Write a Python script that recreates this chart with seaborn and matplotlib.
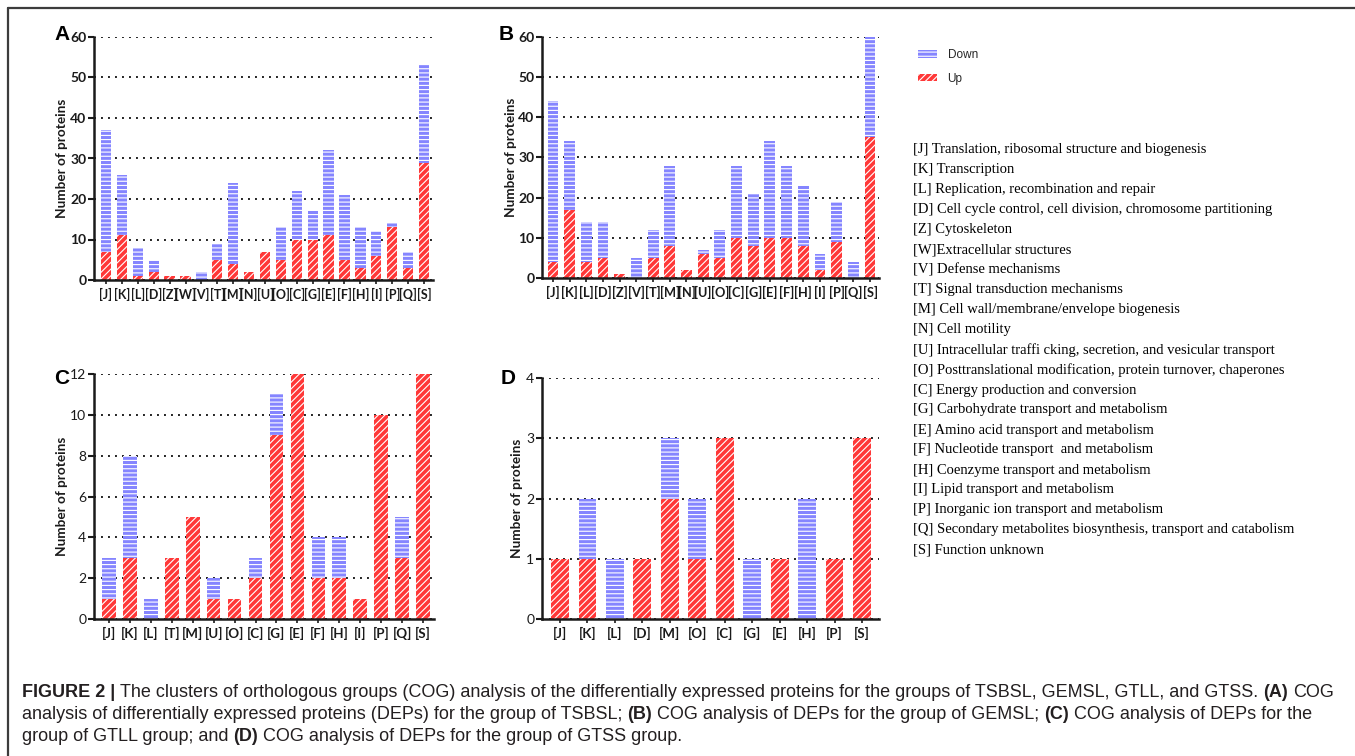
import numpy as np
import pandas as pd
import matplotlib
matplotlib.use("Agg")
import matplotlib.pyplot as plt
import seaborn as sns
from matplotlib.patches import Patch
from matplotlib.lines import Line2D

# ---------------- data ----------------
cats_A = ["[J]", "[K]", "[L]", "[D]", "[Z]", "[W]", "[V]", "[T]", "[M]", "[N]", "[U]",
          "[O]", "[C]", "[G]", "[E]", "[F]", "[H]", "[I]", "[P]", "[Q]", "[S]"]
up_A = [7, 11, 1, 2, 1, 1, 0, 5, 4, 2, 7, 5, 10, 10, 11, 5, 3, 6, 13, 3, 29]
down_A = [30, 15, 7, 3, 0, 0, 2, 4, 20, 0, 0, 8, 12, 7, 21, 16, 10, 6, 1, 4, 24]

cats_B = ["[J]", "[K]", "[L]", "[D]", "[Z]", "[V]", "[T]", "[M]", "[N]", "[U]",
          "[O]", "[C]", "[G]", "[E]", "[F]", "[H]", "[I]", "[P]", "[Q]", "[S]"]
up_B = [4, 17, 4, 5, 1, 0, 5, 8, 2, 6, 5, 10, 8, 10, 10, 8, 2, 9, 0, 35]
down_B = [40, 17, 10, 9, 0, 5, 7, 20, 0, 1, 7, 18, 13, 24, 18, 15, 4, 10, 4, 25]

cats_C = ["[J]", "[K]", "[L]", "[T]", "[M]", "[U]", "[O]", "[C]", "[G]", "[E]",
          "[F]", "[H]", "[I]", "[P]", "[Q]", "[S]"]
up_C = [1, 3, 0, 3, 5, 1, 1, 2, 9, 12, 2, 2, 1, 10, 3, 12]
down_C = [2, 5, 1, 0, 0, 1, 0, 1, 2, 0, 2, 2, 0, 0, 2, 0]

cats_D = ["[J]", "[K]", "[L]", "[D]", "[M]", "[O]", "[C]", "[G]", "[E]", "[H]", "[P]", "[S]"]
up_D = [1, 1, 0, 1, 2, 1, 3, 0, 1, 0, 1, 3]
down_D = [0, 1, 1, 0, 1, 1, 0, 1, 0, 2, 0, 0]

legend_labels = ["Down", "Up"]
y_label = "Number of proteins"

cog_lines = [
    "[J] Translation, ribosomal structure and biogenesis",
    "[K] Transcription",
    "[L] Replication, recombination and repair",
    "[D] Cell cycle control, cell division, chromosome partitioning",
    "[Z] Cytoskeleton",
    "[W]Extracellular structures",
    "[V] Defense mechanisms",
    "[T] Signal transduction mechanisms",
    "[M] Cell wall/membrane/envelope biogenesis",
    "[N] Cell motility",
    "[U] Intracellular traffi cking, secretion, and vesicular transport",
    "[O] Posttranslational modification, protein turnover, chaperones",
    "[C] Energy production and conversion",
    "[G] Carbohydrate transport and metabolism",
    "[E] Amino acid transport and metabolism",
    "[F] Nucleotide transport  and metabolism",
    "[H] Coenzyme transport and metabolism",
    "[I] Lipid transport and metabolism",
    "[P] Inorganic ion transport and metabolism",
    "[Q] Secondary metabolites biosynthesis, transport and catabolism",
    "[S] Function unknown",
]

caption_lines = [
    [("FIGURE 2 |", "bold", False),
     ("The clusters of orthologous groups (COG) analysis of the differentially expressed proteins for the groups of TSBSL, GEMSL, GTLL, and GTSS.", "normal", True),
     ("(A)", "bold", True), ("COG", "normal", True)],
    [("analysis of differentially expressed proteins (DEPs) for the group of TSBSL;", "normal", False),
     ("(B)", "bold", True), ("COG analysis of DEPs for the group of GEMSL;", "normal", True),
     ("(C)", "bold", True), ("COG analysis of DEPs for the", "normal", True)],
    [("group of GTLL group; and", "normal", False), ("(D)", "bold", True),
     ("COG analysis of DEPs for the group of GTSS group.", "normal", True)],
]

# ---------------- style ----------------
sns.set_theme(style="white")
plt.rcParams["font.family"] = ["Lato", "DejaVu Sans"]
plt.rcParams["hatch.linewidth"] = 0.8

W, H = 1355, 756
fig = plt.figure(figsize=(W / 100, H / 100), dpi=100)
BLUE = "#8585FF"
RED = "#FF3838"
DARK = "#1a1a1a"


def px_axes(l, r, t, b):
    return fig.add_axes([l / W, 1 - b / H, (r - l) / W, (b - t) / H])


panels = [
    dict(letter="A", cats=cats_A, up=up_A, down=down_A, box=(94, 433, 37, 280),
         first=106, last=424, ymax=60, step=10, ybold=True, lxy=(62, 35), ylab_r=68, xsize=9.0),
    dict(letter="B", cats=cats_B, up=up_B, down=down_B, box=(542, 879, 37, 278),
         first=553, last=870, ymax=60, step=10, ybold=True, lxy=(506, 35), ylab_r=517, xsize=9.2),
    dict(letter="C", cats=cats_C, up=up_C, down=down_C, box=(94, 434, 374, 619),
         first=109, last=423, ymax=12, step=2, ybold=False, lxy=(62, 378), ylab_r=68, xsize=9.6),
    dict(letter="D", cats=cats_D, up=up_D, down=down_D, box=(542, 879, 378, 619),
         first=560, last=862, ymax=4, step=1, ybold=False, lxy=(508, 378), ylab_r=523, xsize=9.6),
]

for p in panels:
    l, r, t, b = p["box"]
    ax = px_axes(l, r, t, b)
    df = pd.DataFrame({"cat": p["cats"], "up": p["up"], "down": p["down"]})
    df["total"] = df["up"] + df["down"]

    sns.barplot(data=df, x="cat", y="total", order=p["cats"], color=BLUE,
                saturation=1, width=0.65, errorbar=None, ax=ax)
    n_first = len(ax.patches)
    sns.barplot(data=df, x="cat", y="up", order=p["cats"], color=RED,
                saturation=1, width=0.65, errorbar=None, ax=ax)
    for i, patch in enumerate(ax.patches):
        if i < n_first:
            patch.set_facecolor(BLUE)
            patch.set_hatch("----")
        else:
            patch.set_facecolor(RED)
            patch.set_hatch("/////")
        patch.set_edgecolor("white")
        patch.set_linewidth(0)

    n = len(p["cats"])
    s = (p["last"] - p["first"]) / (n - 1)
    ax.set_xlim(-(p["first"] - l) / s, (n - 1) + (r - p["last"]) / s)
    ax.set_ylim(0, p["ymax"])
    ax.set_yticks(np.arange(0, p["ymax"] + p["step"] / 2, p["step"]))
    ax.set_xlabel("")
    ax.set_ylabel(y_label, fontsize=9.8, fontweight="bold", color=DARK)
    ax.yaxis.set_label_coords((p["ylab_r"] - l) / (r - l), 0.5)

    ax.yaxis.grid(True, linestyle=(0, (1, 2.6)), color="#222222", linewidth=1.4)
    ax.xaxis.grid(False)
    ax.set_axisbelow(True)
    for sp in ["top", "right"]:
        ax.spines[sp].set_visible(False)
    for sp in ["left", "bottom"]:
        ax.spines[sp].set_color(DARK)
        ax.spines[sp].set_linewidth(1.8)
    ax.tick_params(axis="y", left=True, length=4, width=1.5, pad=1.5,
                   labelsize=10, colors=DARK, direction="out")
    ax.tick_params(axis="x", bottom=True, length=3, width=1.2, pad=3,
                   labelsize=p["xsize"], colors=DARK, direction="out")
    for lab in ax.get_xticklabels():
        lab.set_fontweight("bold")
    for lab in ax.get_yticklabels():
        lab.set_fontweight("bold" if p["ybold"] else "normal")

    fig.text(p["lxy"][0] / W, 1 - p["lxy"][1] / H, p["letter"], ha="center", va="center",
             fontsize=15, fontweight="bold", family=["Liberation Sans", "DejaVu Sans"],
             color="black")

# ---------------- legend ----------------
handles = [Patch(facecolor=BLUE, hatch="----", edgecolor="white", linewidth=0, label=legend_labels[0]),
           Patch(facecolor=RED, hatch="/////", edgecolor="white", linewidth=0, label=legend_labels[1])]
fig.legend(handles=handles, loc="upper left", bbox_to_anchor=(918 / W, 1 - 49 / H),
           frameon=False, prop={"family": "Liberation Sans", "size": 8.5},
           handlelength=1.6, handleheight=0.6, labelspacing=1.0, handletextpad=0.9,
           borderaxespad=0, borderpad=0)

# ---------------- COG list ----------------
for i, line in enumerate(cog_lines):
    fig.text(913 / W, 1 - (150 + 20 * i) / H, line, ha="left", va="center",
             family=["Liberation Serif", "DejaVu Serif"], fontsize=10.5, color="black")

# ---------------- frame ----------------
fig.add_artist(Line2D([8 / W, 1.0], [1 - 8 / H, 1 - 8 / H], transform=fig.transFigure,
                      color="#3c3c3c", linewidth=1.6))
fig.add_artist(Line2D([8 / W, 8 / W], [1 - 8 / H, 0.0], transform=fig.transFigure,
                      color="#3c3c3c", linewidth=1.6))

# ---------------- caption ----------------
renderer = fig.canvas.get_renderer()
cap_family = ["Liberation Sans", "DejaVu Sans"]
CAP_COLOR = "#231F20"


def measure(txt, weight, size):
    tt = fig.text(0, 0, txt, fontsize=size, fontweight=weight, family=cap_family)
    w = tt.get_window_extent(renderer).width
    tt.remove()
    return w


def space_w(size):
    return measure("x x", "normal", size) - 2 * measure("x", "normal", size)


base = 12.0
w1 = sum(measure(tx, wt, base) for tx, wt, _ in caption_lines[0]) + \
    sum(space_w(base) for _, _, g in caption_lines[0] if g)
cap_size = base * (1335 - 22) / w1

sp = space_w(cap_size)
for li, tokens in enumerate(caption_lines):
    x = 22.0
    y = 697 + 22 * li
    for tx, wt, gap in tokens:
        if gap:
            x += sp
        fig.text(x / W, 1 - y / H, tx, ha="left", va="baseline", fontsize=cap_size,
                 fontweight=wt, family=cap_family, color=CAP_COLOR)
        x += measure(tx, wt, cap_size)

fig.savefig("out.png", dpi=100)
